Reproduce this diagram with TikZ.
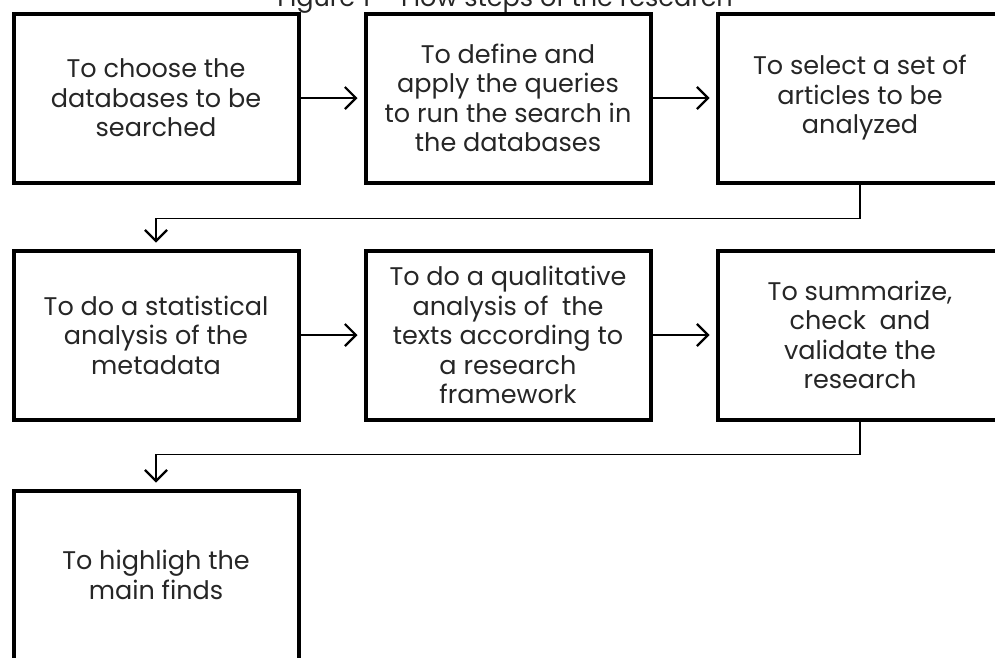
\documentclass[tikz,border=0pt]{standalone}
\usepackage{fontspec}
\setmainfont{Poppins}
\usetikzlibrary{positioning,arrows.meta}
\tikzset{
	stepbox/.style={draw, line width=4pt, minimum width=285pt, minimum height=169pt, inner sep=0pt, align=center, text=black!85, font=\fontsize{25.5}{29.5}\selectfont},
	flow/.style={line width=1.8pt, shorten >=6pt, -{Straight Barb[length=11pt,width=22pt,line width=2.2pt]}}
}
\begin{document}
\begin{tikzpicture}[node distance=64pt and 63pt]
	\useasboundingbox (0,0) rectangle (995pt,-657pt);
	\clip (0,0) rectangle (995pt,-657pt);
	\node (title) [anchor=base, text=black!85, font=\fontsize{25.5}{29.5}\selectfont] at (505pt,-6pt) {Figure 1 -- Flow steps of the research};
	\node (choose) [stepbox] at (156pt,-98pt) {To choose the\\databases to be\\searched};
	\node (define) [stepbox, right=of choose] {To define and\\apply the queries\\to run the search in\\the databases};
	\node (select) [stepbox, right=of define] {To select a set of\\articles to be\\analyzed};
	\node (stat) [stepbox, below=of choose] {To do a statistical\\analysis of the\\metadata};
	\node (quali) [stepbox, right=of stat] {To do a qualitative\\analysis of\ \ the\\texts according to\\a research\\framework};
	\node (summ) [stepbox, right=of quali] {To summarize,\\check\ \ and\\validate the\\research};
	\node (finds) [stepbox, below=67pt of stat] {To highligh the\\main finds};
	\draw [flow] (choose) -- (define);
	\draw [flow] (define) -- (select);
	\draw [flow] (select.south) -- ++(0,-34pt) -| (stat.north);
	\draw [flow] (stat) -- (quali);
	\draw [flow] (quali) -- (summ);
	\draw [flow] (summ.south) -- ++(0,-33pt) -| (finds.north);
\end{tikzpicture}
\end{document}
